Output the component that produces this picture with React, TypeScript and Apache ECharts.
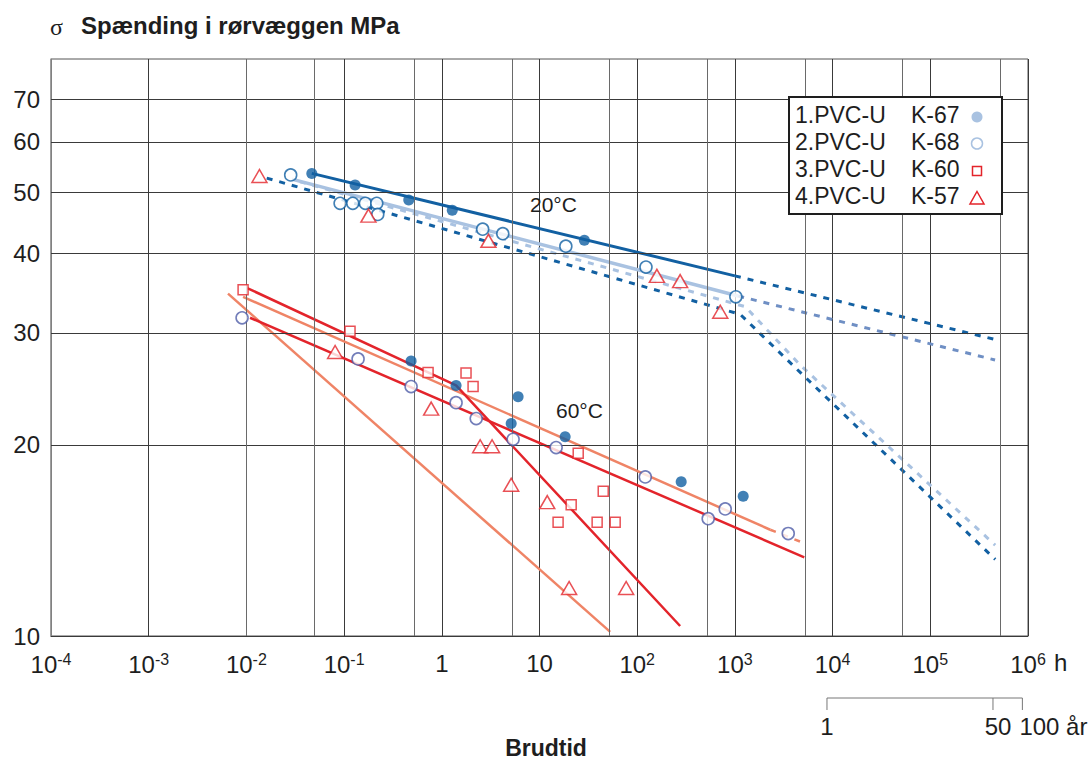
import React, { useEffect, useRef } from 'react';
import * as echarts from 'echarts';

// ---- tick / grid values ----
const yTicks = [10, 20, 30, 40, 50, 60, 70];
const xMinorGrid = [5.2e-4, 5.2e-3, 5.2e-2, 5.2e-1, 5.2, 52, 520, 5200, 52000, 520000];
const yearMarks = [
  { h: 8760, label: '1' },
  { h: 438000, label: '50' },
  { h: 876000, label: '100 år' },
];

// ---- points (hours, MPa) ----
const k67 = [
  [0.0467, 53.5], [0.1296, 51.3], [0.459, 48.6], [1.28, 46.8], [28.8, 42.0],
  [0.485, 27.1], [1.4, 24.8], [6.04, 23.8], [5.13, 21.6], [18.3, 20.6], [282, 17.5], [1216, 16.6],
];
const k68_20 = [
  [0.0284, 53.2], [0.091, 48.0], [0.1227, 48.0], [0.165, 48.0], [0.216, 48.0], [0.221, 46.1],
  [2.62, 43.7], [4.21, 43.0], [18.6, 41.1], [123, 38.1], [1023, 34.2],
];
const k68_60 = [
  [0.00903, 31.7], [0.139, 27.3], [0.485, 24.7], [1.4, 23.3], [2.25, 22.0], [5.37, 20.4],
  [14.8, 19.8], [121, 17.8], [533, 15.3], [796, 15.85], [3515, 14.5],
];
const k60 = [
  [0.00925, 35.1], [0.115, 30.2], [0.724, 26.0], [1.77, 25.95], [2.09, 24.7], [15.5, 15.1],
  [21.1, 16.1], [24.9, 19.4], [38.9, 15.1], [44.9, 16.9], [59.5, 15.1],
];
const k57 = [
  [0.0136, 53.0], [0.1775, 45.9], [3.0, 41.9], [159, 36.9], [275, 36.2], [708, 32.4],
  [0.0809, 28.0], [0.778, 22.8], [2.47, 19.9], [3.27, 19.9], [5.13, 17.3], [12.0, 16.25], [20.1, 11.9], [77.1, 11.9],
];

// ---- regression lines ----
const line20DarkSolid = [[0.0467, 53.5], [1000, 36.9]];
const line20DarkExt = [[1000, 36.9], [4.6e5, 29.3]];
const line20LightSolid = [[0.0291, 52.4], [1081, 34.3]];
const line20LightExt = [[1081, 34.3], [4.6e5, 27.2]];
const line20DarkDashed = [[0.01614, 52.6], [1133, 32.1], [4667, 26.0], [4.62e5, 13.2]];
const line20LightDashed = [[0.0354, 51.9], [1276, 33.0], [4667, 26.7], [4.62e5, 13.9]];
const line60RedLong = [[0.0109, 31.7], [5130, 13.3]];
const line60RedKink = [[0.0102, 35.3], [1.4, 24.8], [275, 10.37]];
const line60SalmonSteep = [[0.00648, 34.6], [52.9, 10.15]];
const line60SalmonSolid = [[0.00925, 34.2], [2300, 14.7]];
const line60SalmonExt = [[2300, 14.7], [5130, 14.0]];

const darkBlue = '#1260a2';
const lightBlue = '#a9c2e1';
const midBlue = '#6f8fc4';
const violet = '#4f5ca8';
const red = '#e3242b';
const salmon = '#ef8466';
const FONT = 'Liberation Sans, Arial, Helvetica, sans-serif';
const INK = '#1e1e1e';

const lineSeries = (data: number[][], color: string, width: number, dashed: boolean, z = 3) => ({
  type: 'line',
  data,
  showSymbol: false,
  symbol: 'none',
  silent: true,
  z,
  lineStyle: { color, width, type: dashed ? [6, 7] : 'solid', cap: 'butt' },
});

export default function App() {
  const ref = useRef<HTMLDivElement>(null);
  useEffect(() => {
    if (!ref.current) return;
    const chart = echarts.init(ref.current, undefined, { renderer: 'svg' });
    const option: any = {
      animation: false,
      backgroundColor: '#fff',
      grid: { left: 51, right: 62, top: 59, bottom: 126, show: true, borderColor: '#555', borderWidth: 1 },
      xAxis: {
        type: 'log',
        logBase: 10,
        min: 1e-4,
        max: 1e6,
        splitNumber: 10,
        axisLine: { show: true, lineStyle: { color: '#555', width: 1 } },
        axisTick: { show: false },
        splitLine: { show: true, lineStyle: { color: '#3a3a3a', width: 1 } },
        axisLabel: {
          margin: 15,
          color: INK,
          fontSize: 24,
          fontFamily: FONT,
          formatter: (v: number) => {
            const k = Math.round(Math.log10(v));
            if (k === 0) return '1';
            if (k === 1) return '10';
            return '10{s|' + (k < 0 ? '-' : '') + Math.abs(k) + '}';
          },
          rich: { s: { fontSize: 16, fontFamily: FONT, color: INK, verticalAlign: 'top', padding: [0, 0, 10, 0] } },
        },
      },
      yAxis: {
        type: 'log',
        logBase: 10,
        min: 10,
        max: 81,
        axisLine: { show: true, lineStyle: { color: '#9a9a9a', width: 1.5 } },
        axisTick: { show: false },
        axisLabel: { show: false },
        splitLine: { show: false },
      },
      series: [
        {
          type: 'line',
          data: [],
          silent: true,
          markLine: {
            silent: true,
            symbol: ['none', 'none'],
            animation: false,
            lineStyle: { color: '#3a3a3a', width: 1, type: 'solid' },
            label: {
              show: true,
              position: 'start',
              distance: 11,
              fontSize: 24,
              color: INK,
              fontFamily: FONT,
              formatter: (p: any) => String(Math.round(p.value)),
            },
            data: yTicks.map((v) => ({ yAxis: v })),
          },
        },
        {
          type: 'line',
          data: [],
          silent: true,
          markLine: {
            silent: true,
            symbol: ['none', 'none'],
            animation: false,
            lineStyle: { color: '#6a6a6a', width: 1, type: 'solid' },
            label: { show: false },
            data: xMinorGrid.map((v) => ({ xAxis: v })),
          },
        },
        lineSeries(line20DarkDashed, darkBlue, 3, true),
        lineSeries(line20LightDashed, lightBlue, 3, true),
        lineSeries(line20LightSolid, lightBlue, 3.5, false),
        lineSeries(line20LightExt, midBlue, 3, true),
        lineSeries(line20DarkSolid, darkBlue, 3, false),
        lineSeries(line20DarkExt, darkBlue, 3, true),
        lineSeries(line60SalmonSteep, salmon, 2.5, false),
        lineSeries(line60SalmonSolid, salmon, 2.5, false),
        lineSeries(line60SalmonExt, salmon, 2.5, true),
        lineSeries(line60RedLong, red, 2.5, false),
        lineSeries(line60RedKink, red, 2.5, false),
        {
          name: 'K-67', type: 'scatter', data: k67, symbol: 'circle', symbolSize: 11, z: 5,
          itemStyle: { color: darkBlue },
        },
        {
          name: 'K-68', type: 'scatter', data: k68_20, symbol: 'circle', symbolSize: 12, z: 5,
          itemStyle: { color: '#fff', borderColor: darkBlue, borderWidth: 1.6 },
        },
        {
          name: 'K-68b', type: 'scatter', data: k68_60, symbol: 'circle', symbolSize: 12, z: 5,
          itemStyle: { color: '#fff', borderColor: violet, borderWidth: 1.6 },
        },
        {
          name: 'K-60', type: 'scatter', data: k60, symbol: 'rect', symbolSize: 10, z: 5,
          itemStyle: { color: '#fff', borderColor: red, borderWidth: 1.5 },
        },
        {
          name: 'K-57', type: 'scatter', data: k57, symbol: 'triangle', symbolSize: [15, 13], z: 5,
          itemStyle: { color: '#fff', borderColor: red, borderWidth: 1.5 },
        },
      ],
    };
    chart.setOption(option);

    // year bracket below the axis, positioned through the x scale
    const px = yearMarks.map((m) => chart.convertToPixel({ xAxisIndex: 0 }, m.h) as number);
    const yb = 698;
    const legendRows = [
      { a: '1.PVC-U', b: 'K-67' },
      { a: '2.PVC-U', b: 'K-68' },
      { a: '3.PVC-U', b: 'K-60' },
      { a: '4.PVC-U', b: 'K-57' },
    ];
    const graphic: any[] = [
      { type: 'text', left: 50, top: 15, style: { text: 'σ', fontSize: 24, fontFamily: 'Liberation Serif, serif', fill: INK } },
      { type: 'text', left: 81, top: 13, style: { text: 'Spænding i rørvæggen MPa', fontSize: 24, fontWeight: 'bold', fontFamily: FONT, fill: INK } },
      { type: 'text', left: 1054, top: 650, style: { text: 'h', fontSize: 24, fontFamily: FONT, fill: INK } },
      { type: 'text', x: 546, y: 748, style: { text: 'Brudtid', fontSize: 23, fontWeight: 'bold', fontFamily: FONT, fill: INK, align: 'center', verticalAlign: 'middle' } },
      { type: 'line', shape: { x1: px[0], y1: yb, x2: px[2], y2: yb }, style: { stroke: '#777', lineWidth: 1 } },
      ...px.map((x) => ({ type: 'line', shape: { x1: x, y1: yb, x2: x, y2: yb + 12 }, style: { stroke: '#777', lineWidth: 1 } })),
      { type: 'text', x: px[0], y: 726, style: { text: yearMarks[0].label, fontSize: 24, fontFamily: FONT, fill: INK, align: 'center', verticalAlign: 'middle' } },
      { type: 'text', x: px[1] + 5, y: 726, style: { text: yearMarks[1].label, fontSize: 24, fontFamily: FONT, fill: INK, align: 'center', verticalAlign: 'middle' } },
      { type: 'text', x: px[2] - 3, y: 726, style: { text: yearMarks[2].label, fontSize: 24, fontFamily: FONT, fill: INK, align: 'left', verticalAlign: 'middle' } },
      { type: 'text', x: 530, y: 204, style: { text: '20°C', fontSize: 21, fontFamily: FONT, fill: INK, verticalAlign: 'middle' } },
      { type: 'text', x: 556, y: 410, style: { text: '60°C', fontSize: 21, fontFamily: FONT, fill: INK, verticalAlign: 'middle' } },
      { type: 'rect', shape: { x: 789, y: 97, width: 213, height: 117 }, style: { fill: '#fff', stroke: INK, lineWidth: 2 }, z: 20 },
    ];
    legendRows.forEach((r, i) => {
      const y = 115 + i * 27;
      graphic.push({ type: 'text', x: 795, y, z: 21, style: { text: r.a, fontSize: 23, fontFamily: FONT, fill: INK, verticalAlign: 'middle' } });
      graphic.push({ type: 'text', x: 911, y, z: 21, style: { text: r.b, fontSize: 23, fontFamily: FONT, fill: INK, verticalAlign: 'middle' } });
    });
    const sx = 977;
    graphic.push({ type: 'circle', z: 21, shape: { cx: sx, cy: 117, r: 5.5 }, style: { fill: lightBlue } });
    graphic.push({ type: 'circle', z: 21, shape: { cx: sx, cy: 143.5, r: 5.5 }, style: { fill: '#fff', stroke: lightBlue, lineWidth: 1.5 } });
    graphic.push({ type: 'rect', z: 21, shape: { x: sx - 4.5, y: 166.5, width: 9, height: 9 }, style: { fill: '#fff', stroke: red, lineWidth: 1.5 } });
    graphic.push({ type: 'polygon', z: 21, shape: { points: [[sx, 191.5], [sx + 7, 204], [sx - 7, 204]] }, style: { fill: '#fff', stroke: red, lineWidth: 1.5 } });
    chart.setOption({ graphic });

    return () => chart.dispose();
  }, []);
  return <div ref={ref} style={{ width: 1090, height: 762, position: 'absolute', left: 0, top: 0 }} />;
}
